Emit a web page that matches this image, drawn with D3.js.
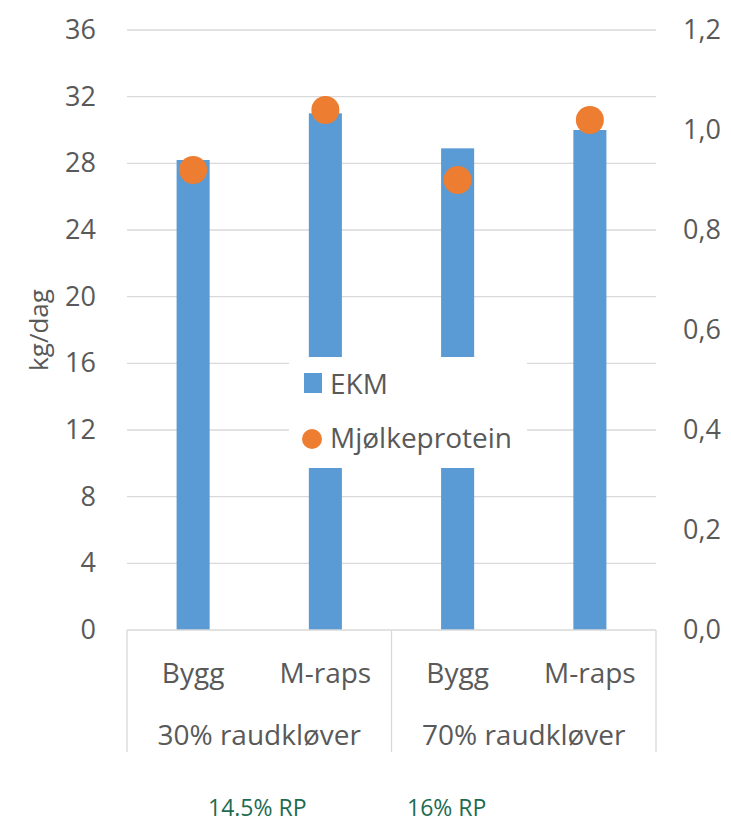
<!DOCTYPE html>
<html>
<head>
<meta charset="utf-8">
<script src="https://cdn.jsdelivr.net/npm/d3@7"></script>
<style>
  body { margin: 0; background: #fff; }
  text { font-family: "Open Sans", sans-serif; fill: #595959; }
</style>
</head>
<body>
<svg id="chart"></svg>
<script>
var width = 731;
var height = 824;

var categories = ['Bygg', 'M-raps', 'Bygg', 'M-raps'];
var groups = ['30% raudkløver', '70% raudkløver'];
var ekm = [28.2, 31.0, 28.9, 30.0];
var protein = [0.92, 1.04, 0.90, 1.02];
var leftTicks = [0, 4, 8, 12, 16, 20, 24, 28, 32, 36];
var rightTicks = [0, 0.2, 0.4, 0.6, 0.8, 1.0, 1.2];
var notes = ['14.5% RP', '16% RP'];

var plotLeft = 127, plotRight = 656, plotTop = 30, plotBottom = 630;

var svg = d3.select('#chart')
    .attr('width', width)
    .attr('height', height);

var xScale = d3.scaleBand()
    .domain(d3.range(categories.length))
    .range([plotLeft, plotRight])
    .paddingInner(0.75)
    .paddingOuter(0.375);

var groupScale = d3.scaleBand()
    .domain(d3.range(groups.length))
    .range([plotLeft, plotRight]);

var yScale = d3.scaleLinear()
    .domain([0, 36])
    .range([plotBottom, plotTop]);

var y2Scale = d3.scaleLinear()
    .domain([0, 1.2])
    .range([plotBottom, plotTop]);

// gridlines
svg.append('g')
  .selectAll('line')
    .data(leftTicks.slice(1))
    .enter()
  .append('line')
    .attr('x1', plotLeft)
    .attr('x2', plotRight)
    .attr('y1', d => yScale(d))
    .attr('y2', d => yScale(d))
    .attr('stroke', '#d9d9d9')
    .attr('stroke-width', 1.3);

var yAxis = d3.axisLeft(yScale)
    .tickValues(leftTicks)
    .tickSize(0)
    .tickPadding(31);

var y2Axis = d3.axisRight(y2Scale)
    .tickValues(rightTicks)
    .tickSize(0)
    .tickPadding(27)
    .tickFormat(d => d3.format('.1f')(d).replace('.', ','));

svg.append('g')
    .attr('transform', 'translate(' + plotLeft + ',0)')
    .call(yAxis)
    .call(g => g.select('.domain').remove())
    .selectAll('text')
    .style('font-size', '27px')
    .style('font-family', '"Open Sans", sans-serif')
    .style('fill', '#595959');

svg.append('g')
    .attr('transform', 'translate(' + plotRight + ',0)')
    .call(y2Axis)
    .call(g => g.select('.domain').remove())
    .selectAll('text')
    .style('font-size', '27px')
    .style('font-family', '"Open Sans", sans-serif')
    .style('fill', '#595959');

// bars
svg.append('g')
  .selectAll('rect')
    .data(ekm)
    .enter()
  .append('rect')
    .attr('x', (d, i) => xScale(i))
    .attr('y', d => yScale(d))
    .attr('width', xScale.bandwidth())
    .attr('height', d => plotBottom - yScale(d))
    .attr('fill', '#5b9bd5');

// dots
svg.append('g')
  .selectAll('circle')
    .data(protein)
    .enter()
  .append('circle')
    .attr('cx', (d, i) => xScale(i) + xScale.bandwidth() / 2)
    .attr('cy', d => y2Scale(d))
    .attr('r', 14)
    .attr('fill', '#ed7d31');

// category axis box
var axisColor = '#d9d9d9';
svg.append('line')
    .attr('x1', plotLeft).attr('x2', plotRight)
    .attr('y1', plotBottom).attr('y2', plotBottom)
    .attr('stroke', axisColor).attr('stroke-width', 1.3);

svg.append('g')
  .selectAll('line')
    .data([plotLeft, groupScale(1), plotRight])
    .enter()
  .append('line')
    .attr('x1', d => d).attr('x2', d => d)
    .attr('y1', plotBottom).attr('y2', 752)
    .attr('stroke', axisColor).attr('stroke-width', 1.3);

svg.append('g')
  .selectAll('text')
    .data(categories)
    .enter()
  .append('text')
    .attr('x', (d, i) => xScale(i) + xScale.bandwidth() / 2)
    .attr('y', 683)
    .attr('text-anchor', 'middle')
    .style('font-size', '28px')
    .text(d => d);

svg.append('g')
  .selectAll('text')
    .data(groups)
    .enter()
  .append('text')
    .attr('x', (d, i) => groupScale(i) + groupScale.bandwidth() / 2)
    .attr('y', 745)
    .attr('text-anchor', 'middle')
    .style('font-size', '28px')
    .text(d => d);

// y axis title
svg.append('text')
    .attr('transform', 'rotate(-90)')
    .attr('x', -330)
    .attr('y', 48)
    .attr('text-anchor', 'middle')
    .style('font-size', '26px')
    .text('kg/dag');

// legend
var legend = svg.append('g');
legend.append('rect')
    .attr('x', 289).attr('y', 357)
    .attr('width', 238).attr('height', 111)
    .attr('fill', '#fff');
legend.append('rect')
    .attr('x', 304).attr('y', 373)
    .attr('width', 18).attr('height', 20)
    .attr('fill', '#5b9bd5');
legend.append('text')
    .attr('x', 330).attr('y', 394)
    .style('font-size', '28px')
    .text('EKM');
legend.append('circle')
    .attr('cx', 312).attr('cy', 439)
    .attr('r', 10)
    .attr('fill', '#ed7d31');
legend.append('text')
    .attr('x', 330).attr('y', 448)
    .style('font-size', '28px')
    .text('Mjølkeprotein');

// notes under chart
svg.append('g')
  .selectAll('text')
    .data(notes)
    .enter()
  .append('text')
    .attr('x', (d, i) => [208, 407][i])
    .attr('y', 816)
    .style('font-size', '23px')
    .style('fill', '#1e6b52')
    .text(d => d);
</script>
</body>
</html>
